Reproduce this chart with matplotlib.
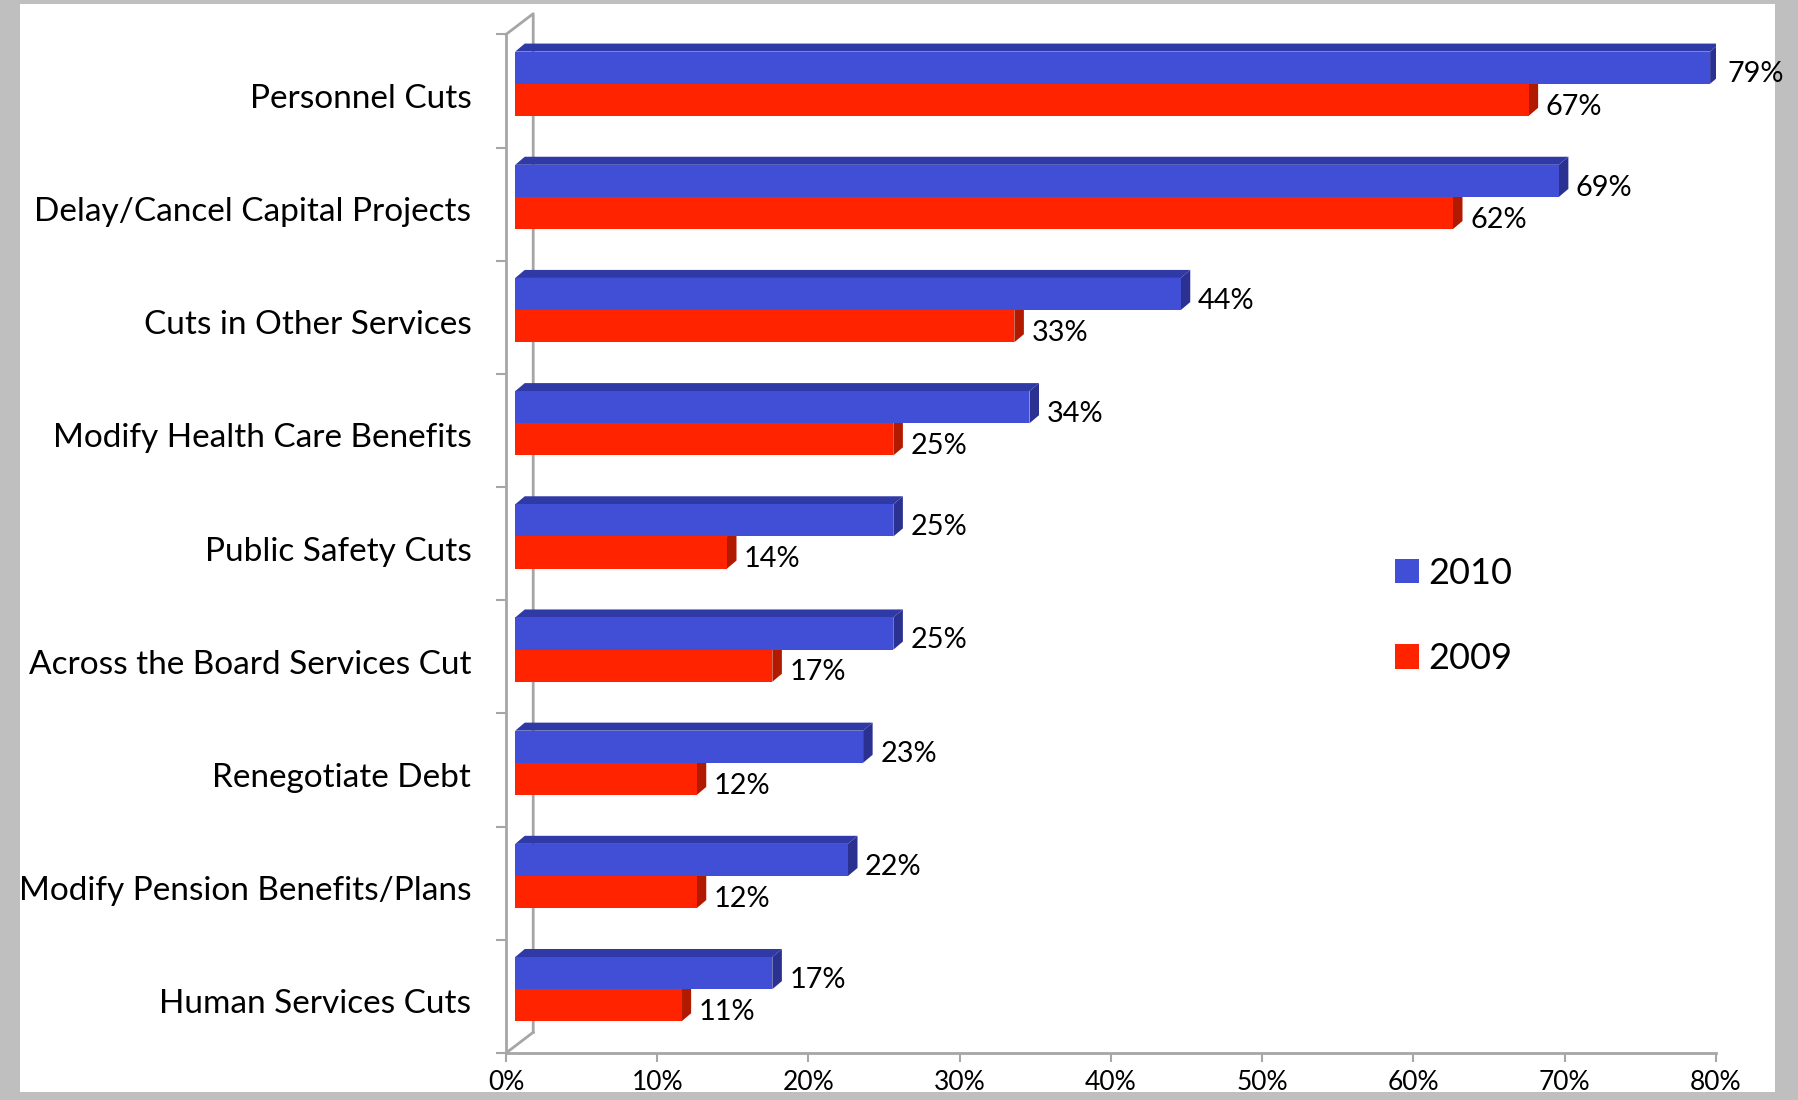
import matplotlib.pyplot as plt
from matplotlib.patches import Polygon, Rectangle, Patch
from matplotlib.transforms import ScaledTranslation

categories = ["Personnel Cuts", "Delay/Cancel Capital Projects", "Cuts in Other Services",
              "Modify Health Care Benefits", "Public Safety Cuts", "Across the Board Services Cut",
              "Renegotiate Debt", "Modify Pension Benefits/Plans", "Human Services Cuts"]
values_2010 = [79, 69, 44, 34, 25, 25, 23, 22, 17]
values_2009 = [67, 62, 33, 25, 14, 17, 12, 12, 11]
series_names = ["2010", "2009"]
x_ticks = [0, 10, 20, 30, 40, 50, 60, 70, 80]

plt.rcParams['font.family'] = ['Lato', 'DejaVu Sans']

W, H = 1799, 1100
FRAME = '#bfbfbf'
fig = plt.figure(figsize=(W / 100, H / 100), dpi=100)
fig.patch.set_facecolor(FRAME)
# white slide area; text may run over the grey margin, except at the bottom
fig.add_artist(Rectangle((20 / W, 0), (1775 - 20) / W, 1 - 4 / H, transform=fig.transFigure,
                         facecolor='white', edgecolor='none', zorder=-1))

ax = fig.add_axes([506 / W, 47 / H, 1210 / W, 1018.6 / H])
ax.set_xlim(0, 80)
ax.set_ylim(9, 0)
ax.patch.set_alpha(0)

GRID = '#a6a6a6'
BLUE, BLUE_TOP, BLUE_SIDE = '#414fd7', '#2f3aa6', '#2b3190'
RED, RED_SIDE = '#ff2300', '#b21a00'

# 3D look: depth of the back wall and of each bar
wall_dx, wall_dy = 1.8, 0.183
bar_x0 = 0.61
bar_dx, bar_dy = 0.63, 0.071
bar_h = 0.284
blue_off = 0.152
red_off = blue_off + bar_h

for s in ['top', 'right']:
    ax.spines[s].set_visible(False)
for s in ['left', 'bottom']:
    ax.spines[s].set_color(GRID)
    ax.spines[s].set_linewidth(2)

# back wall edges
ax.plot([0, wall_dx, wall_dx], [0, -wall_dy, 9 - wall_dy], color=GRID, lw=2, clip_on=False, zorder=1)
ax.plot([0, wall_dx, wall_dx], [9, 9 - wall_dy, 9 - wall_dy], color=GRID, lw=2, clip_on=False, zorder=1)


def side_face(y, v, color):
    xe = bar_x0 + v
    pts = [(xe, y), (xe + bar_dx, y - bar_dy), (xe + bar_dx, y + bar_h - bar_dy), (xe, y + bar_h)]
    ax.add_patch(Polygon(pts, closed=True, facecolor=color, edgecolor='none', zorder=2))


def top_face(y, v, color):
    xe = bar_x0 + v
    pts = [(bar_x0, y), (bar_x0 + bar_dx, y - bar_dy), (xe + bar_dx, y - bar_dy), (xe, y)]
    ax.add_patch(Polygon(pts, closed=True, facecolor=color, edgecolor='none', zorder=2))


y_blue = [i + blue_off for i in range(len(categories))]
y_red = [i + red_off for i in range(len(categories))]

for y, v in zip(y_red, values_2009):
    side_face(y, v, RED_SIDE)
ax.barh(y_red, values_2009, left=bar_x0, height=bar_h, align='edge', color=RED, zorder=3)

for y, v in zip(y_blue, values_2010):
    side_face(y, v, BLUE_SIDE)
    top_face(y, v, BLUE_TOP)
ax.barh(y_blue, values_2010, left=bar_x0, height=bar_h, align='edge', color=BLUE, zorder=4)

for y, v in zip(y_blue, values_2010):
    ax.text(bar_x0 + v + bar_dx + 0.5, y + bar_h / 2 + 0.06, f"{v}%", va='center', ha='left', fontsize=20.8)
for y, v in zip(y_red, values_2009):
    ax.text(bar_x0 + v + bar_dx + 0.5, y + bar_h / 2 + 0.06, f"{v}%", va='center', ha='left', fontsize=20.8)

ax.set_yticks([i + 0.5 for i in range(len(categories))])
ax.set_yticklabels(categories, fontsize=24)
ax.set_yticks(range(len(categories) + 1), minor=True)
ax.tick_params(axis='y', which='major', length=0, pad=25)
ax.tick_params(axis='y', which='minor', length=7, width=1.5, color=GRID)
label_shift = ScaledTranslation(0, -3.5 / 72, fig.dpi_scale_trans)
for lab in ax.get_yticklabels():
    lab.set_transform(lab.get_transform() + label_shift)

ax.set_xticks(x_ticks)
ax.set_xticklabels([f"{t}%" for t in x_ticks], fontsize=19)
ax.tick_params(axis='x', length=6.5, width=1.5, color=GRID, pad=6)

handles = [Patch(facecolor=BLUE, edgecolor='none'), Patch(facecolor=RED, edgecolor='none')]
fig.legend(handles, series_names, loc='center left', bbox_to_anchor=(1395 / W, 1 - 616 / H),
           frameon=False, fontsize=26, handlelength=0.667, handleheight=0.667,
           handletextpad=0.25, labelspacing=1.45, borderpad=0, borderaxespad=0)

# bottom grey margin covers the lower part of the tick labels
fig.add_artist(Rectangle((0, 0), 1, 8 / H, transform=fig.transFigure,
                         facecolor=FRAME, edgecolor='none', zorder=10))

fig.savefig("out.png", dpi=100, facecolor=FRAME)
